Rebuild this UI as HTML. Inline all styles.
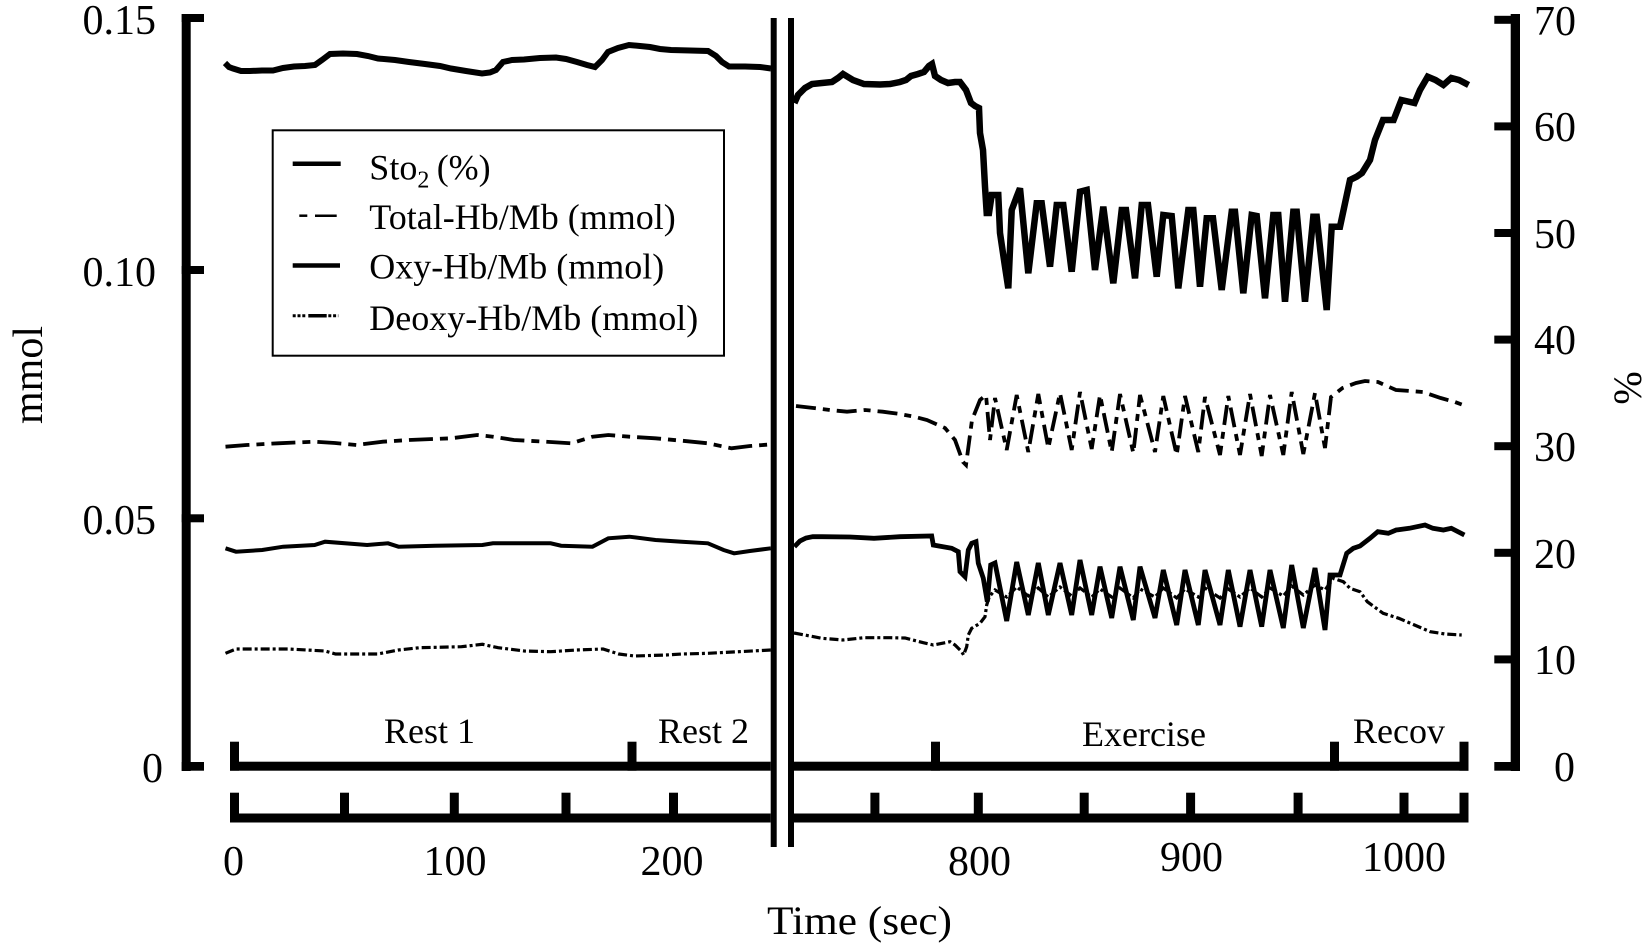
<!DOCTYPE html>
<html>
<head>
<meta charset="utf-8">
<style>
  html,body{margin:0;padding:0;background:#fff;}
  svg{display:block;}
  text{font-family:"Liberation Serif","Times New Roman",serif;fill:#000;}
</style>
</head>
<body>
<svg width="1644" height="949" viewBox="0 0 1644 949" xmlns="http://www.w3.org/2000/svg">
<rect x="0" y="0" width="1644" height="949" fill="#fff"/>

<!-- Left axis -->
<rect x="181.7" y="14" width="9" height="757" fill="#000"/>
<rect x="181.7" y="14" width="22.3" height="8" fill="#000"/>
<rect x="181.7" y="266" width="22.3" height="8" fill="#000"/>
<rect x="181.7" y="514.3" width="22.3" height="8" fill="#000"/>
<rect x="181.7" y="762" width="22.3" height="8.7" fill="#000"/>
<g font-size="42">
<text x="156" y="34" text-anchor="end">0.15</text>
<text x="156" y="286" text-anchor="end">0.10</text>
<text x="156" y="534" text-anchor="end">0.05</text>
<text x="142" y="782">0</text>
</g>
<text font-size="42" transform="translate(42,375) rotate(-90)" text-anchor="middle">mmol</text>

<!-- Right axis -->
<rect x="1510.7" y="14" width="9.3" height="757" fill="#000"/>
<g fill="#000">
<rect x="1494.3" y="15.8" width="25.7" height="8"/>
<rect x="1494.3" y="122.4" width="25.7" height="8"/>
<rect x="1494.3" y="229" width="25.7" height="8"/>
<rect x="1494.3" y="335.6" width="25.7" height="8"/>
<rect x="1494.3" y="442.2" width="25.7" height="8"/>
<rect x="1494.3" y="548.8" width="25.7" height="8"/>
<rect x="1494.3" y="655.4" width="25.7" height="8"/>
<rect x="1494.3" y="762" width="25.7" height="8.7"/>
</g>
<g font-size="42">
<text x="1534" y="35">70</text>
<text x="1534" y="141">60</text>
<text x="1534" y="248">50</text>
<text x="1534" y="354">40</text>
<text x="1534" y="461">30</text>
<text x="1534" y="568">20</text>
<text x="1534" y="674">10</text>
<text x="1554" y="781">0</text>
</g>
<text font-size="40" transform="translate(1641,388) rotate(-90)" text-anchor="middle">%</text>

<!-- Phase axis (upper x-axis) -->
<g fill="#000">
<rect x="230" y="761.7" width="540.7" height="9"/>
<rect x="794" y="761.7" width="674.5" height="9"/>
<rect x="230" y="741.7" width="9" height="29"/>
<rect x="627.5" y="741.7" width="9" height="29"/>
<rect x="931" y="741.7" width="9" height="29"/>
<rect x="1330" y="741.7" width="9" height="29"/>
<rect x="1459.5" y="741.7" width="9" height="29"/>
</g>
<g font-size="36">
<text x="384" y="743">Rest 1</text>
<text x="658" y="743">Rest 2</text>
<text x="1082" y="746">Exercise</text>
<text x="1353" y="743">Recov</text>
</g>

<!-- Time axis -->
<g fill="#000">
<rect x="230" y="813.5" width="540.7" height="9"/>
<rect x="794" y="813.5" width="674.5" height="9"/>
<rect x="230" y="792.7" width="9" height="29.8"/>
<rect x="340" y="792.7" width="9" height="29.8"/>
<rect x="449.8" y="792.7" width="9" height="29.8"/>
<rect x="561.5" y="792.7" width="9" height="29.8"/>
<rect x="669" y="792.7" width="9" height="29.8"/>
<rect x="870.4" y="792.7" width="9" height="29.8"/>
<rect x="973.8" y="792.7" width="9" height="29.8"/>
<rect x="1079.7" y="792.7" width="9" height="29.8"/>
<rect x="1186.1" y="792.7" width="9" height="29.8"/>
<rect x="1293.6" y="792.7" width="9" height="29.8"/>
<rect x="1399.5" y="792.7" width="9" height="29.8"/>
<rect x="1459.5" y="792.7" width="9" height="29.8"/>
</g>
<g font-size="42" text-anchor="middle">
<text x="233.5" y="875">0</text>
<text x="455" y="875">100</text>
<text x="672" y="875">200</text>
<text x="979.5" y="875">800</text>
<text x="1191.5" y="871">900</text>
<text x="1404" y="871">1000</text>
</g>
<text x="859.5" y="934" font-size="40" text-anchor="middle" textLength="185" lengthAdjust="spacingAndGlyphs">Time (sec)</text>

<!-- Break lines -->
<rect x="770.7" y="18" width="6" height="829" fill="#000"/>
<rect x="788" y="18" width="6" height="829" fill="#000"/>

<!-- Legend -->
<rect x="272.7" y="130.3" width="451.3" height="225.4" fill="#fff" stroke="#000" stroke-width="2"/>
<line x1="292.7" y1="163.7" x2="340.7" y2="163.7" stroke="#000" stroke-width="4.5"/>
<line x1="299.3" y1="215.7" x2="307.3" y2="215.7" stroke="#000" stroke-width="2.5"/>
<line x1="315" y1="215.7" x2="336.7" y2="215.7" stroke="#000" stroke-width="2.5"/>
<line x1="292.7" y1="265.5" x2="340" y2="265.5" stroke="#000" stroke-width="4.5"/>
<line x1="292.7" y1="315.7" x2="306.7" y2="315.7" stroke="#000" stroke-width="3" stroke-dasharray="3 1.8"/>
<line x1="308.3" y1="315.7" x2="326.7" y2="315.7" stroke="#000" stroke-width="3.5"/>
<line x1="328.3" y1="315.7" x2="338.3" y2="315.7" stroke="#000" stroke-width="3" stroke-dasharray="3 1.8"/>
<g font-size="36">
<text x="369.3" y="179.3">Sto<tspan font-size="24" dy="8">2</tspan><tspan dy="-8" x="436.7">(%)</tspan></text>
<text x="369.3" y="229">Total-Hb/Mb (mmol)</text>
<text x="369.3" y="278.5">Oxy-Hb/Mb (mmol)</text>
<text x="369.3" y="330">Deoxy-Hb/Mb (mmol)</text>
</g>

<!-- ===== Series ===== -->
<g fill="none" stroke="#000" stroke-linejoin="miter" stroke-linecap="butt">

<!-- Sto2 left -->
<path stroke-width="6" d="M225,63 L229,67 L233,68.5 L241,71 L250,71 L262,70.5 L273,70.5 L283,68 L294,66.5 L305,66 L315,65 L322,60 L330,54 L343,53.5 L357,54 L368,56 L378,58.5 L395,60 L409,62 L425,64 L440,66 L451,68.5 L466,71 L482,73.5 L490,72.5 L496,70 L503,62 L512,60 L524,59.5 L540,58 L556,57.5 L566,59 L577,62 L587,65 L595,67 L602,60 L608,52 L618,48 L629,45 L640,46 L650,47 L660,49 L671,50 L690,50.5 L708,51 L716,56 L722,62 L729,66.5 L745,66.5 L760,67 L771,68.5"/>

<!-- Sto2 right -->
<path stroke-width="6.5" d="M794.4,103 L798,95 L805,88 L812,84 L822,83 L832,82 L838,78 L843,74 L848,77 L853,80 L864,84 L880,84.5 L890,84 L900,82 L906,80 L911,76 L918,74 L924,72 L929,66 L932,64 L935,76 L941,80 L948,83 L955,82 L960,82 L966,90 L971,103 L975,106 L979,108 L980,133 L983,150 L985,186.7 L986.7,213 L989,213 L991.7,195 L998.3,195 L1000,233 L1005,266.7 L1008.3,288.3 L1011.7,210 L1016.7,196.7 L1020,188.3 L1028.3,273.3 L1036.7,203.3 L1041.7,203.3 L1050,266.7 L1056.7,205 L1063.3,205 L1071.7,271.7 L1080,191.7 L1086.7,190 L1095,270 L1103.3,206.7 L1113.3,283.3 L1121.7,210 L1126,210 L1135,278.3 L1141.7,205 L1148,205 L1156.7,276.7 L1163.3,215 L1171.7,216 L1178.3,288.3 L1188.3,210 L1193.3,210 L1200,286.7 L1206.7,218.3 L1213,218.3 L1221.7,290 L1231.7,211.7 L1235,211.7 L1243.3,293.3 L1251.7,215 L1256.7,216 L1265,298.3 L1273.3,215 L1278.3,215 L1285,301.7 L1293.3,211.7 L1296.7,211.7 L1305,301.7 L1313.3,216.7 L1316.7,216.7 L1326.7,310 L1331.7,226.7 L1340,226.7 L1345,203.3 L1350,180 L1356.7,176.7 L1362,173 L1370,160 L1375,140 L1383,120 L1393.6,120 L1401.4,100 L1414.5,103 L1420,90 L1427.7,76.7 L1435.5,80 L1443.4,85 L1451.3,78 L1459.1,80 L1468.6,85"/>

<!-- Total left -->
<path stroke-width="3.8" stroke-dasharray="24 7 8 7" d="M225.5,446.7 L246.5,445 L277.9,443.3 L314.6,441.7 L335,443 L356.6,445 L382.8,441.7 L409,440 L451,438.3 L477.2,435 L492.9,436.7 L513.9,440 L545.4,441.7 L571.6,443.3 L592.5,436.7 L608.3,435 L629.3,436.7 L655.5,438.3 L681.7,440.7 L707.9,443.3 L731.5,448.3 L750,446 L770.8,444.4"/>

<!-- Total right -->
<path stroke-width="3.8" stroke-dasharray="20 7 7 7" d="M796,406 L813.5,408 L830,410 L847,411.7 L865,410 L882.7,411.7 L900,414 L914,416.7 L927,420 L945,428 L955,440 L963,462 L966,465 L972,420 L980,400 L986,395 L990,440 L995,398 L1006.7,450 L1016.7,395 L1028.3,452 L1038.3,394 L1048.3,448 L1060,393 L1071.7,450 L1080,392 L1091.7,449 L1100,395 L1111.7,452 L1120,394 L1133.3,453 L1140,395 L1155,452 L1163.3,396 L1176.7,455 L1185,396 L1198.3,452 L1205,397 L1220,455 L1228.3,396 L1240,455 L1250,394 L1261.7,456 L1270,395 L1283.3,455 L1291.7,392 L1303.3,454 L1315,393 L1325,448 L1331,397 L1342.5,388 L1356,383 L1365,381 L1378,382 L1396,390 L1410,391 L1423,392 L1440.7,398 L1455,402 L1463,405"/>

<!-- Oxy left -->
<path stroke-width="4" d="M225.5,548.3 L236,551.7 L262.2,550 L283.2,546.7 L314.6,545 L325.1,541.7 L367.1,545 L388,543.3 L398.5,546.7 L435.2,545.7 L482.4,545 L492.9,543.3 L550.6,543.3 L561.1,545.7 L592.5,546.7 L608.3,538.3 L629.3,536.7 L655.5,540 L681.7,541.7 L707.9,543.3 L723.6,550 L734.1,553.3 L749.9,551 L770.8,548.3"/>

<!-- Oxy right -->
<path stroke-width="4.8" d="M794.4,546.7 L800,541 L806,538 L812.8,536.7 L822,536.7 L850,537 L874,538.3 L900,536.7 L931.7,536 L933.3,545 L951.7,548.3 L958.3,551.7 L960,571.7 L965,576.7 L968.3,550 L971.7,543.3 L976,541.7 L978.3,563.3 L983.3,578.3 L987.3,601.7 L990.7,565 L995,563 L1006.7,621 L1016.7,562 L1028.3,615 L1038.3,563 L1048.3,615 L1060,563 L1071.7,615 L1080,560 L1091.7,615 L1100,566.7 L1111.7,618 L1120,566.7 L1133.3,620 L1140,566.7 L1155,618 L1163.3,570 L1176.7,625 L1185,570 L1198.3,625 L1205,570 L1220,625 L1228.3,570 L1240,626.7 L1250,570 L1261.7,626.7 L1270,570 L1283.3,628 L1291.7,565 L1303.3,628 L1315,568 L1325,630 L1330,575 L1340,575 L1346.7,553.3 L1353.3,548.3 L1360,546 L1370,538.3 L1377.8,531.7 L1388.3,533.3 L1396.2,530 L1409.3,528.3 L1425,525 L1432.9,528.3 L1443.4,530 L1451.3,528.3 L1464.4,535"/>

<!-- Deoxy left -->
<path stroke-width="3.2" stroke-dasharray="9 3 3 3" d="M225.5,653.3 L236,649 L288.4,649 L325.1,651 L335.6,654 L377.6,654 L398.5,650 L419.5,647.7 L461.5,646.7 L482.4,644.3 L498.2,647.7 L524.4,651 L550.6,651.7 L576.8,650 L603,649 L618.8,654 L634.5,656 L666,655 L682.2,654 L708,653.3 L770.8,650"/>

<!-- Deoxy right -->
<path stroke-width="3.2" stroke-dasharray="9 3 3 3" d="M794,633 L810,636 L822,638.3 L843,640 L864,637.7 L890,637.7 L905,638 L923.3,642.7 L933.3,645 L950,641.7 L955,645 L961.7,651.7 L963.6,655 L966.7,646.7 L968.3,635 L971.7,628.3 L980,623.3 L985,616.7 L986.7,605 L989.3,596.7 L995,590 L1006.7,597 L1016.7,587 L1028.3,596 L1038.3,588 L1048.3,597 L1060,587 L1071.7,596 L1080,588 L1091.7,597 L1100,589 L1111.7,597 L1120,588 L1133.3,598 L1140,589 L1155,597 L1163.3,588 L1176.7,598 L1185,589 L1198.3,597 L1205,588 L1220,598 L1228.3,589 L1240,597 L1250,588 L1261.7,597 L1270,588 L1283.3,596 L1291.7,586 L1303.3,595 L1315,585 L1325,590 L1333.3,578.3 L1343.3,581.7 L1350,588.3 L1360,591.7 L1367.3,601.7 L1383.1,613.3 L1398.8,618.3 L1414.5,625 L1430.2,631.7 L1445,634 L1461.7,635"/>
</g>
</svg>
</body>
</html>
